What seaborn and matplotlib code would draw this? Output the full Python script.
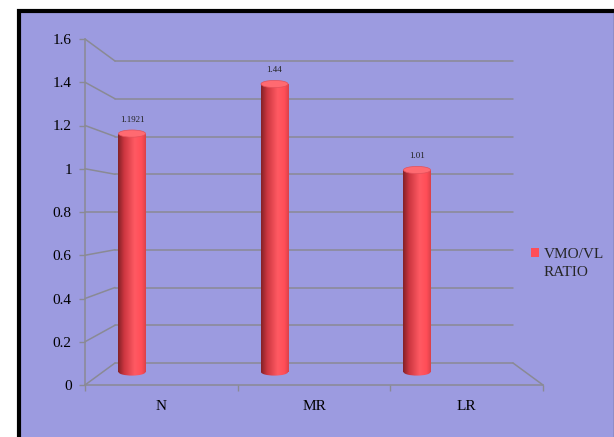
import numpy as np
import matplotlib
matplotlib.use("Agg")
import matplotlib.pyplot as plt
import seaborn as sns
from matplotlib.patches import Rectangle, Ellipse, Patch
from matplotlib.colors import LinearSegmentedColormap
from matplotlib.lines import Line2D

# data
categories = ["N", "MR", "LR"]
ratios = [1.1921, 1.44, 1.01]
yticks = [0, 0.2, 0.4, 0.6, 0.8, 1.0, 1.2, 1.4, 1.6]
ytick_labels = ["0", "0.2", "0.4", "0.6", "0.8", "1", "1.2", "1.4", "1.6"]
series_name = ["VMO/VL", "RATIO"]

W, H = 614, 437
BG = "#9c9be0"
GRID = "#8a8a94"
RED = "#ff4d57"

sns.set_theme(style="white")
plt.rcParams["font.family"] = ["Liberation Serif", "DejaVu Serif"]


def px(x0, top, x1, bottom):
    # pixel box -> figure fraction
    return [x0 / W, 1 - bottom / H, (x1 - x0) / W, (bottom - top) / H]


fig = plt.figure(figsize=(W / 100, H / 100), dpi=100)
fig.patch.set_facecolor("white")
fig.patches.append(Rectangle((18.5 / W, -0.1), 1.0, 1.1 - 11 / H, transform=fig.transFigure,
                             facecolor=BG, edgecolor="black", lw=3, zorder=-5))
fig.add_artist(Line2D([613.5 / W, 613.5 / W], [0, 1 - 12 / H], color="#555566", lw=1))

# back wall gridlines
axb = fig.add_axes(px(115, 61, 513, 363))
axb.set_xlim(0, 1)
axb.set_ylim(0, 1.6)
axb.axis("off")
for v in yticks:
    axb.axhline(v, color=GRID, lw=1.1, clip_on=False)

# front axis (ticks and labels)
axf = fig.add_axes(px(85, 39, 543, 385))
axf.set_facecolor("none")
axf.set_xlim(-0.5, 2.5)
axf.set_ylim(0, 1.6)
axf.set_yticks(yticks, ytick_labels)
axf.set_xticks(range(len(categories)), categories)
axf.set_xticks([-0.5, 0.5, 1.5, 2.5], minor=True)
for s in ["top", "right"]:
    axf.spines[s].set_visible(False)
for s in ["left", "bottom"]:
    axf.spines[s].set_color(GRID)
    axf.spines[s].set_linewidth(1.1)
axf.tick_params(axis="y", left=True, length=4, width=1, color=GRID, pad=5.5, labelsize=11, labelcolor="black")
axf.tick_params(axis="x", which="major", bottom=False, length=0, pad=11, labelsize=11, labelcolor="black")
axf.tick_params(axis="x", which="minor", bottom=True, length=4, width=1, color=GRID)

# diagonal connectors front -> back
inv = fig.transFigure.inverted()
for v in yticks:
    p1 = inv.transform(axf.transData.transform((-0.5, v)))
    p2 = inv.transform(axb.transData.transform((0, v)))
    fig.add_artist(Line2D([p1[0], p2[0]], [p1[1], p2[1]], color=GRID, lw=1.1))
p1 = inv.transform(axf.transData.transform((2.5, 0)))
p2 = inv.transform(axb.transData.transform((1, 0)))
fig.add_artist(Line2D([p1[0], p2[0]], [p1[1], p2[1]], color=GRID, lw=1.1))

# bars
ax = fig.add_axes(px(60.75, 52, 488.25, 382))
ax.set_facecolor("none")
sns.barplot(x=categories, y=ratios, color=RED, width=0.19, saturation=1, linewidth=0, ax=ax)

cmap = LinearSegmentedColormap.from_list(
    "cyl", [(0, "#822126"), (0.22, "#cc3640"), (0.6, "#ff5a63"), (0.85, "#ff4d57"), (1, "#d9414a")])
grad = np.linspace(0, 1, 256).reshape(1, -1)
eh = 0.036
for bar in list(ax.patches):
    x0, w, h = bar.get_x(), bar.get_width(), bar.get_height()
    cx = x0 + w / 2
    bot = Ellipse((cx, 0), w, eh, facecolor="none", edgecolor="none")
    ax.add_patch(bot)
    im = ax.imshow(grad, cmap=cmap, aspect="auto", extent=(x0, x0 + w, 0, h), zorder=3)
    im.set_clip_path(bar)
    im2 = ax.imshow(grad, cmap=cmap, aspect="auto", extent=(x0, x0 + w, -eh, eh), zorder=3)
    im2.set_clip_path(bot)
    ax.add_patch(Ellipse((cx, h), w, eh, facecolor="#ff6a71", edgecolor="#e2505a",
                         lw=0.5, zorder=4))

ax.bar_label(ax.containers[0], padding=7, fontsize=6.5, color="#222222")
ax.set_xlim(-0.5, 2.5)
ax.set_ylim(-0.05, 1.6)
ax.axis("off")

fig.legend(handles=[Patch(facecolor=RED, edgecolor="none"), Patch(facecolor="none", edgecolor="none")],
           labels=series_name, loc="upper left",
           bbox_to_anchor=(531 / W, 1 - 248 / H), frameon=False, fontsize=11,
           handlelength=0.55, handleheight=0.55, handletextpad=0.3, borderaxespad=0,
           borderpad=0, labelspacing=0.3)

fig.savefig("out.png", dpi=100)
